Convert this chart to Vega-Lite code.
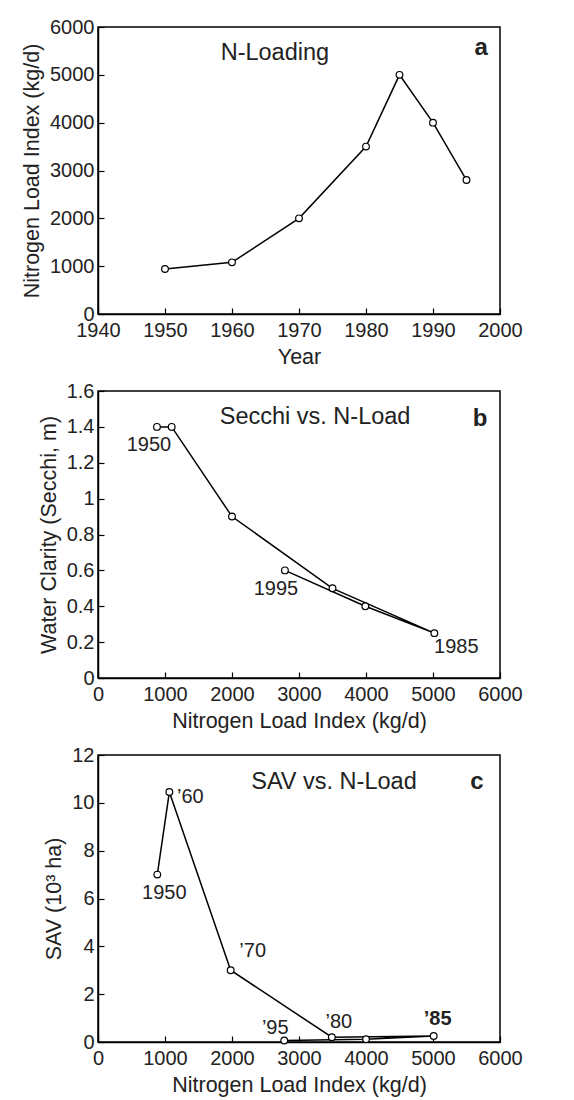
{
  "$schema": "https://vega.github.io/schema/vega-lite/v6.json",
  "padding": {"left": 20, "top": 16, "right": 5, "bottom": 5},
  "spacing": 11,
  "config": {
    "font": "Liberation Sans",
    "view": {"stroke": "black", "strokeWidth": 1.5},
    "axis": {
      "grid": false,
      "domainColor": "black",
      "domainWidth": 1.5,
      "tickColor": "black",
      "tickWidth": 1.2,
      "tickSize": -6,
      "tickCount": 20,
      "labelColor": "#222",
      "titleColor": "#222",
      "labelFontSize": 20,
      "titleFontSize": 21.5,
      "titleFontWeight": "normal",
      "labelPadding": 10,
      "titlePadding": 6,
      "labelFlush": false,
      "labelOverlap": false,
      "labelBound": false,
      "labelFont": "Liberation Sans",
      "titleFont": "Liberation Sans"
    },
    "axisX": {"labelPadding": 12},
    "text": {"font": "Liberation Sans", "fontSize": 20, "color": "#222"}
  },
  "datasets": {
    "obs": [
      {"year": 1950, "yr_n": 940, "n": 880, "secchi": 1.4, "sav_n": 885, "sav": 7.0},
      {"year": 1960, "yr_n": 1080, "n": 1100, "secchi": 1.4, "sav_n": 1065, "sav": 10.45},
      {"year": 1970, "yr_n": 2000, "n": 2000, "secchi": 0.9, "sav_n": 1980, "sav": 3.0},
      {"year": 1980, "yr_n": 3500, "n": 3500, "secchi": 0.5, "sav_n": 3490, "sav": 0.2},
      {"year": 1985, "yr_n": 5000, "n": 5020, "secchi": 0.25, "sav_n": 5010, "sav": 0.25},
      {"year": 1990, "yr_n": 4000, "n": 3990, "secchi": 0.4, "sav_n": 4000, "sav": 0.12},
      {"year": 1995, "yr_n": 2800, "n": 2790, "secchi": 0.6, "sav_n": 2780, "sav": 0.06}
    ]
  },
  "vconcat": [
    {
      "width": 402,
      "height": 287,
      "data": {"name": "obs"},
      "layer": [
        {
          "mark": {"type": "line", "color": "black", "strokeWidth": 1.5},
          "encoding": {
            "x": {"field": "year", "type": "quantitative", "scale": {"domain": [1940, 2000], "nice": false}, "axis": {"values": [1940, 1950, 1960, 1970, 1980, 1990, 2000], "tickCount": 20, "format": "d", "title": "Year"}},
            "y": {"field": "yr_n", "type": "quantitative", "scale": {"domain": [0, 6000], "nice": false}, "axis": {"values": [0, 1000, 2000, 3000, 4000, 5000, 6000], "tickCount": 20, "format": "d", "title": "Nitrogen Load Index (kg/d)", "encode": {"labels": {"update": {"dy": {"signal": "datum.value == 0 ? -10 : 0"}}}}}},
            "order": {"field": "year"}
          }
        },
        {
          "mark": {"type": "point", "shape": "circle", "filled": true, "fill": "white", "stroke": "black", "strokeWidth": 1.2, "size": 45, "opacity": 1},
          "encoding": {
            "x": {"field": "year", "type": "quantitative"},
            "y": {"field": "yr_n", "type": "quantitative"}
          }
        },
        {
          "data": {"values": [{"tx": 1966.4, "ty": 5456, "label": "N-Loading"}]},
          "mark": {"type": "text", "fontSize": 23.5},
          "encoding": {
            "x": {"field": "tx", "type": "quantitative"},
            "y": {"field": "ty", "type": "quantitative"},
            "text": {"field": "label"}
          }
        },
        {
          "data": {"values": [{"tx": 1997.2, "ty": 5561, "label": "a"}]},
          "mark": {"type": "text", "fontSize": 24, "fontWeight": "bold"},
          "encoding": {
            "x": {"field": "tx", "type": "quantitative"},
            "y": {"field": "ty", "type": "quantitative"},
            "text": {"field": "label"}
          }
        }
      ]
    },
    {
      "width": 402,
      "height": 287,
      "data": {"name": "obs"},
      "layer": [
        {
          "mark": {"type": "line", "color": "black", "strokeWidth": 1.5},
          "encoding": {
            "x": {"field": "n", "type": "quantitative", "scale": {"domain": [0, 6000], "nice": false}, "axis": {"values": [0, 1000, 2000, 3000, 4000, 5000, 6000], "tickCount": 20, "format": "d", "title": "Nitrogen Load Index (kg/d)"}},
            "y": {"field": "secchi", "type": "quantitative", "scale": {"domain": [0, 1.6], "nice": false}, "axis": {"values": [0, 0.2, 0.4, 0.6, 0.8, 1, 1.2, 1.4, 1.6], "tickCount": 20, "format": "~g", "title": "Water Clarity (Secchi, m)", "encode": {"labels": {"update": {"dy": {"signal": "datum.value == 0 ? -6 : 0"}}}}}},
            "order": {"field": "year"}
          }
        },
        {
          "mark": {"type": "point", "shape": "circle", "filled": true, "fill": "white", "stroke": "black", "strokeWidth": 1.2, "size": 45, "opacity": 1},
          "encoding": {
            "x": {"field": "n", "type": "quantitative"},
            "y": {"field": "secchi", "type": "quantitative"}
          }
        },
        {
          "transform": [{"filter": "datum.year == 1950"}],
          "mark": {"type": "text", "dx": -8, "dy": 18},
          "encoding": {"x": {"field": "n", "type": "quantitative"}, "y": {"field": "secchi", "type": "quantitative"}, "text": {"value": "1950"}}
        },
        {
          "transform": [{"filter": "datum.year == 1995"}],
          "mark": {"type": "text", "dx": -9, "dy": 19},
          "encoding": {"x": {"field": "n", "type": "quantitative"}, "y": {"field": "secchi", "type": "quantitative"}, "text": {"value": "1995"}}
        },
        {
          "transform": [{"filter": "datum.year == 1985"}],
          "mark": {"type": "text", "dx": 22, "dy": 14},
          "encoding": {"x": {"field": "n", "type": "quantitative"}, "y": {"field": "secchi", "type": "quantitative"}, "text": {"value": "1985"}}
        },
        {
          "data": {"values": [{"tx": 3240, "ty": 1.455, "label": "Secchi vs. N-Load"}]},
          "mark": {"type": "text", "fontSize": 23.5},
          "encoding": {
            "x": {"field": "tx", "type": "quantitative"},
            "y": {"field": "ty", "type": "quantitative"},
            "text": {"field": "label"}
          }
        },
        {
          "data": {"values": [{"tx": 5701, "ty": 1.444, "label": "b"}]},
          "mark": {"type": "text", "fontSize": 24, "fontWeight": "bold"},
          "encoding": {
            "x": {"field": "tx", "type": "quantitative"},
            "y": {"field": "ty", "type": "quantitative"},
            "text": {"field": "label"}
          }
        }
      ]
    },
    {
      "width": 402,
      "height": 287,
      "data": {"name": "obs"},
      "layer": [
        {
          "mark": {"type": "line", "color": "black", "strokeWidth": 1.5},
          "encoding": {
            "x": {"field": "sav_n", "type": "quantitative", "scale": {"domain": [0, 6000], "nice": false}, "axis": {"values": [0, 1000, 2000, 3000, 4000, 5000, 6000], "tickCount": 20, "format": "d", "title": "Nitrogen Load Index (kg/d)"}},
            "y": {"field": "sav", "type": "quantitative", "scale": {"domain": [0, 12], "nice": false}, "axis": {"values": [0, 2, 4, 6, 8, 10, 12], "tickCount": 20, "format": "d", "title": "SAV (10³ ha)", "encode": {"labels": {"update": {"dy": {"signal": "datum.value == 0 ? -6 : 0"}}}}}},
            "order": {"field": "year"}
          }
        },
        {
          "mark": {"type": "point", "shape": "circle", "filled": true, "fill": "white", "stroke": "black", "strokeWidth": 1.2, "size": 45, "opacity": 1},
          "encoding": {
            "x": {"field": "sav_n", "type": "quantitative"},
            "y": {"field": "sav", "type": "quantitative"}
          }
        },
        {
          "transform": [{"filter": "datum.year == 1950"}],
          "mark": {"type": "text", "dx": 7, "dy": 18},
          "encoding": {"x": {"field": "sav_n", "type": "quantitative"}, "y": {"field": "sav", "type": "quantitative"}, "text": {"value": "1950"}}
        },
        {
          "transform": [{"filter": "datum.year == 1960"}],
          "mark": {"type": "text", "dx": 21, "dy": 5},
          "encoding": {"x": {"field": "sav_n", "type": "quantitative"}, "y": {"field": "sav", "type": "quantitative"}, "text": {"value": "’60"}}
        },
        {
          "transform": [{"filter": "datum.year == 1970"}],
          "mark": {"type": "text", "dx": 22, "dy": -19},
          "encoding": {"x": {"field": "sav_n", "type": "quantitative"}, "y": {"field": "sav", "type": "quantitative"}, "text": {"value": "’70"}}
        },
        {
          "transform": [{"filter": "datum.year == 1980"}],
          "mark": {"type": "text", "dx": 7, "dy": -15},
          "encoding": {"x": {"field": "sav_n", "type": "quantitative"}, "y": {"field": "sav", "type": "quantitative"}, "text": {"value": "’80"}}
        },
        {
          "transform": [{"filter": "datum.year == 1995"}],
          "mark": {"type": "text", "dx": -9, "dy": -13},
          "encoding": {"x": {"field": "sav_n", "type": "quantitative"}, "y": {"field": "sav", "type": "quantitative"}, "text": {"value": "’95"}}
        },
        {
          "transform": [{"filter": "datum.year == 1985"}],
          "mark": {"type": "text", "dx": 4, "dy": -17, "fontWeight": "bold"},
          "encoding": {"x": {"field": "sav_n", "type": "quantitative"}, "y": {"field": "sav", "type": "quantitative"}, "text": {"value": "’85"}}
        },
        {
          "data": {"values": [{"tx": 3522, "ty": 10.87, "label": "SAV vs. N-Load"}]},
          "mark": {"type": "text", "fontSize": 23.5},
          "encoding": {
            "x": {"field": "tx", "type": "quantitative"},
            "y": {"field": "ty", "type": "quantitative"},
            "text": {"field": "label"}
          }
        },
        {
          "data": {"values": [{"tx": 5657, "ty": 10.87, "label": "c"}]},
          "mark": {"type": "text", "fontSize": 24, "fontWeight": "bold"},
          "encoding": {
            "x": {"field": "tx", "type": "quantitative"},
            "y": {"field": "ty", "type": "quantitative"},
            "text": {"field": "label"}
          }
        }
      ]
    }
  ]
}
